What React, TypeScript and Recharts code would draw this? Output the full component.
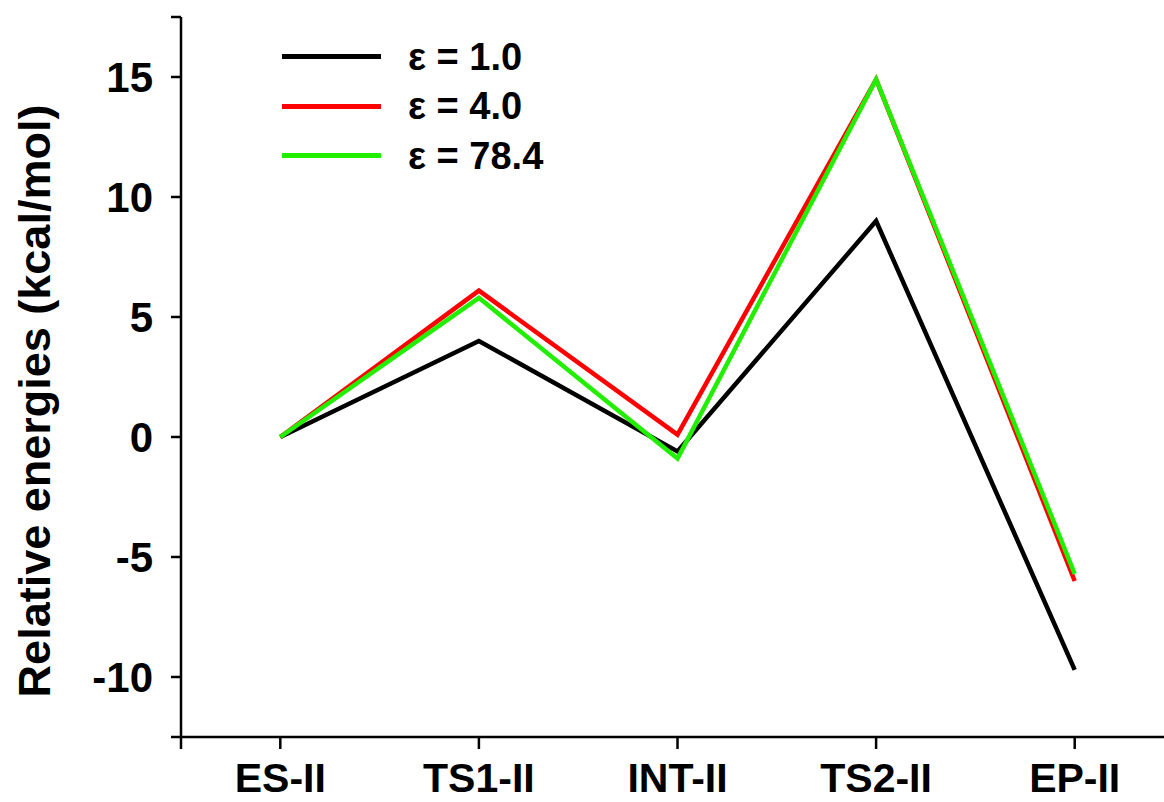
import { LineChart, Line, XAxis, YAxis, Legend } from 'recharts'

// reaction path steps
const steps = ['ES-II', 'TS1-II', 'INT-II', 'TS2-II', 'EP-II']

// relative energies in kcal/mol for each dielectric constant
const eps1 = [0, 4.0, -0.6, 9.0, -9.7]
const eps4 = [0, 6.1, 0.1, 14.9, -6.0]
const eps78 = [0, 5.8, -0.9, 14.9, -5.7]

const yTicks = [-12.5, -10, -5, 0, 5, 10, 15, 17.5]
const xTicks = [-0.5, 0, 1, 2, 3, 4]

const data = steps.map((s, i) => ({ idx: i, step: s, e1: eps1[i], e4: eps4[i], e78: eps78[i] }))

const FONT = '"Liberation Sans", Arial, sans-serif'
const axisStyle = { stroke: '#000', strokeWidth: 2.5 }

const YTitle = ({ viewBox }: any) => {
    const cx = 34
    const cy = viewBox.y + viewBox.height / 2 + 24
    return (
        <text
            x={cx}
            y={cy}
            transform={`rotate(-90, ${cx}, ${cy})`}
            textAnchor="middle"
            dominantBaseline="central"
            fontFamily={FONT}
            fontWeight="bold"
            fontSize={45}
            fill="#000"
        >
            Relative energies (kcal/mol)
        </text>
    )
}

const LegendBox = ({ payload }: any) => (
    <div style={{ fontFamily: FONT, fontWeight: 'bold', fontSize: 38, color: '#000' }}>
        {(payload || []).map((p: any) => (
            <div key={p.value} style={{ display: 'flex', alignItems: 'center', height: 49.5 }}>
                <div style={{ width: 99, height: 5, background: p.color, marginRight: 27 }} />
                <span style={{ lineHeight: 1 }}>{p.value}</span>
            </div>
        ))}
    </div>
)

export default function App() {
    return (
        <div style={{ position: 'fixed', left: 0, top: 0, width: 1164, height: 802, overflow: 'hidden', background: '#fff' }}>
            <LineChart width={1200} height={802} data={data} margin={{ top: 17, right: 26, left: 0, bottom: 0 }}>
                <XAxis
                    type="number"
                    dataKey="idx"
                    domain={[-0.5, 4.5]}
                    ticks={xTicks}
                    interval={0}
                    height={65}
                    tickSize={12}
                    tickMargin={14}
                    axisLine={axisStyle}
                    tickLine={axisStyle}
                    tickFormatter={(v) => (Number.isInteger(v) ? steps[v] : '')}
                    tick={{ fontFamily: FONT, fontWeight: 'bold', fontSize: 41, fill: '#000' }}
                />
                <YAxis
                    type="number"
                    domain={[-12.5, 17.5]}
                    ticks={yTicks}
                    interval={0}
                    width={181}
                    tickSize={10}
                    tickMargin={18}
                    axisLine={axisStyle}
                    tickLine={axisStyle}
                    tickFormatter={(v) => (Number.isInteger(v) ? String(v) : '')}
                    tick={{ fontFamily: FONT, fontWeight: 'bold', fontSize: 42, fill: '#000' }}
                    label={YTitle}
                />
                <Legend
                    layout="horizontal"
                    verticalAlign="middle"
                    align="center"
                    content={LegendBox}
                    wrapperStyle={{ top: 32, left: 282, width: 'auto' }}
                />
                <Line dataKey="e1" name="ε = 1.0" stroke="#000" strokeWidth={4.5} dot={false} isAnimationActive={false} />
                <Line dataKey="e4" name="ε = 4.0" stroke="#ff0000" strokeWidth={4.5} dot={false} isAnimationActive={false} />
                <Line dataKey="e78" name="ε = 78.4" stroke="#22ee00" strokeWidth={4.5} dot={false} isAnimationActive={false} />
            </LineChart>
        </div>
    )
}
